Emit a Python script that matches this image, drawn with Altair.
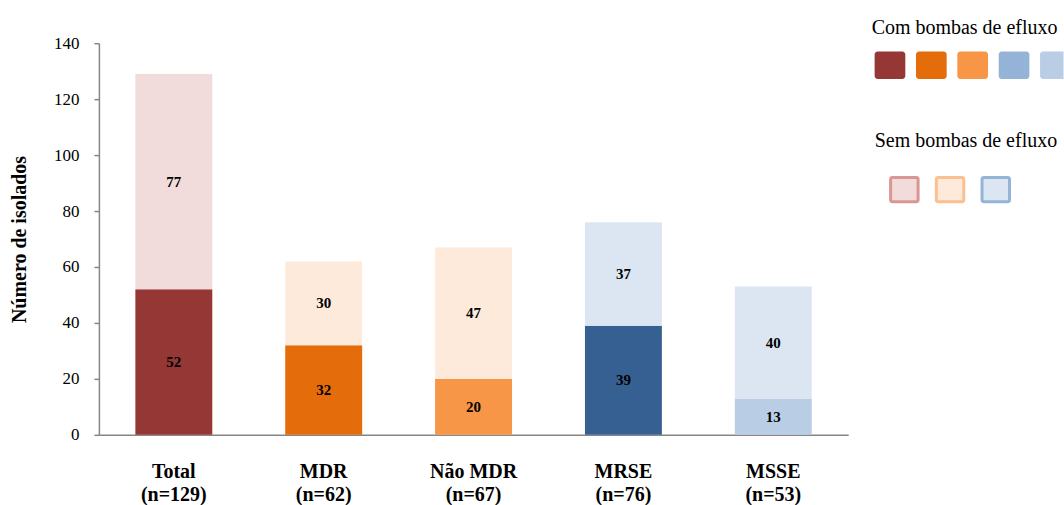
import altair as alt
import pandas as pd

# ---- data ----
categories = ["Total", "MDR", "Não MDR", "MRSE", "MSSE"]
n_totals = [129, 62, 67, 76, 53]
com_values = [52, 32, 20, 39, 13]     # com bombas de efluxo (lower segment)
sem_values = [77, 30, 47, 37, 40]     # sem bombas de efluxo (upper segment)
com_colors = ["#953735", "#e46c0a", "#f79646", "#376092", "#b9cde5"]
sem_colors = ["#f2dcdb", "#fdeada", "#fdeada", "#dce6f2", "#dce6f2"]
y_ticks = [0, 20, 40, 60, 80, 100, 120, 140]

legend_titles = ["Com bombas de efluxo", "Sem bombas de efluxo"]
legend_com_colors = ["#953735", "#e46c0a", "#f79646", "#95b3d7", "#b9cde5"]
legend_sem_fills = ["#f2dcdb", "#fdeada", "#dce6f2"]
legend_sem_strokes = ["#d99694", "#fac090", "#95b3d7"]

FONT = "Liberation Serif"
AXIS_GRAY = "#868686"

# ---- bar table ----
labels = [f"{c}|(n={n})" for c, n in zip(categories, n_totals)]
rows = []
for lab, c, s, cc, sc in zip(labels, com_values, sem_values, com_colors, sem_colors):
    rows.append({"label": lab, "y0": 0, "y1": c, "value": c, "color": cc})
    rows.append({"label": lab, "y0": c, "y1": c + s, "value": s, "color": sc})
bars_df = pd.DataFrame(rows)

x_enc = alt.X(
    "label:N",
    sort=labels,
    scale=alt.Scale(paddingInner=0.4867, paddingOuter=0.2433),
    axis=alt.Axis(
        title=None,
        labelExpr="split(datum.label, '|')",
        labelAngle=0,
        labelFont=FONT,
        labelFontSize=20,
        labelFontWeight="bold",
        labelLineHeight=23,
        labelColor="black",
        labelPadding=26.5,
        labelLimit=0,
        ticks=False,
        domainColor=AXIS_GRAY,
        domainWidth=1.5,
    ),
)
y_scale = alt.Scale(domain=[0, 140], nice=False)

bars = alt.Chart(bars_df).mark_bar().encode(
    x=x_enc,
    y=alt.Y(
        "y1:Q",
        scale=y_scale,
        axis=alt.Axis(
            values=y_ticks,
            title="Número de isolados",
            titleFont=FONT,
            titleFontSize=20,
            titleFontWeight="bold",
            titleColor="black",
            titlePadding=24,
            labelFont=FONT,
            labelFontSize=17,
            labelColor="black",
            labelPadding=15,
            tickSize=5,
            tickColor=AXIS_GRAY,
            tickWidth=1.5,
            domainColor=AXIS_GRAY,
            domainWidth=1.5,
            grid=False,
        ),
    ),
    y2="y0:Q",
    color=alt.Color("color:N", scale=None),
)

texts = alt.Chart(bars_df).transform_calculate(
    mid="(datum.y0 + datum.y1) / 2"
).mark_text(font=FONT, fontSize=15, fontWeight="bold", color="black", baseline="middle").encode(
    x=alt.X("label:N", sort=labels),
    y=alt.Y("mid:Q", scale=y_scale),
    text="value:Q",
)

main = alt.layer(bars, texts).properties(width=750, height=392)

# ---- custom legend panel ----
row_scale = alt.Scale(domain=[0, 1], range=[22, 146.5])
x1_scale = alt.Scale(domain=[0, 4], range=[31.8, 197.4])
x2_scale = alt.Scale(domain=[0, 2], range=[46.2, 137.7])

leg1_df = pd.DataFrame({"col": list(range(len(legend_com_colors))), "row": 0, "color": legend_com_colors})
leg2_df = pd.DataFrame({"col": list(range(len(legend_sem_fills))), "row": 1,
                        "fill": legend_sem_fills, "stroke": legend_sem_strokes})
head1_df = pd.DataFrame({"col": [0], "row": [0], "t": [legend_titles[0]]})
head2_df = pd.DataFrame({"col": [0], "row": [1], "t": [legend_titles[1]]})

rect1 = alt.Chart(leg1_df).mark_rect(width=30.7, height=27.6, cornerRadius=3, clip=True).encode(
    x=alt.X("col:Q", scale=x1_scale, axis=None),
    y=alt.Y("row:Q", scale=row_scale, axis=None),
    color=alt.Color("color:N", scale=None),
)
head1 = alt.Chart(head1_df).mark_text(
    font=FONT, fontSize=20, color="black", align="left", baseline="alphabetic", dx=-18.3, dy=-31.5
).encode(
    x=alt.X("col:Q", scale=x1_scale, axis=None),
    y=alt.Y("row:Q", scale=row_scale, axis=None),
    text="t:N",
)
rect2 = alt.Chart(leg2_df).mark_rect(width=27.5, height=24.3, cornerRadius=2, strokeWidth=3).encode(
    x=alt.X("col:Q", scale=x2_scale, axis=None),
    y=alt.Y("row:Q", scale=row_scale, axis=None),
    fill=alt.Fill("fill:N", scale=None),
    stroke=alt.Stroke("stroke:N", scale=None),
)
head2 = alt.Chart(head2_df).mark_text(
    font=FONT, fontSize=20, color="black", align="left", baseline="alphabetic", dx=-29.7, dy=-43
).encode(
    x=alt.X("col:Q", scale=x2_scale, axis=None),
    y=alt.Y("row:Q", scale=row_scale, axis=None),
    text="t:N",
)

legend = alt.layer(head1, rect1, head2, rect2).resolve_scale(x="independent").properties(
    width=205.5, height=392
)

chart = alt.hconcat(main, legend, spacing=10, bounds="flush").configure_view(stroke=None).properties(
    padding={"left": 9, "top": 17, "right": 0, "bottom": 0},
    background="white",
)

chart.save("out.html", embed_options={"renderer": "svg", "actions": False})
